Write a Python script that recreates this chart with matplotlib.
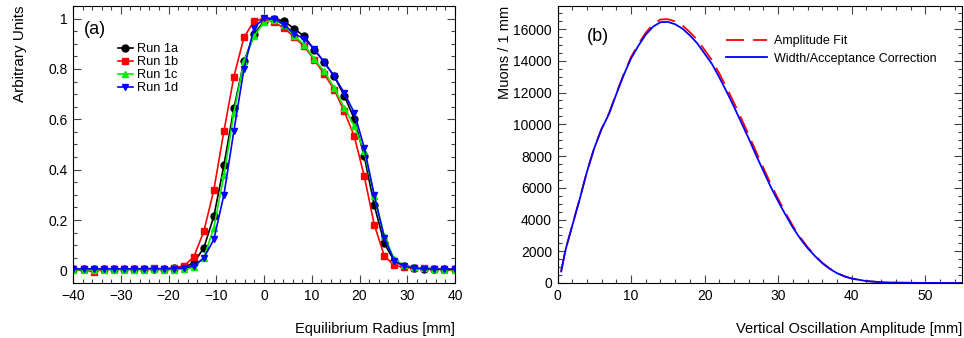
import numpy as np
import matplotlib
matplotlib.use("Agg")
import matplotlib.pyplot as plt
from matplotlib.ticker import MultipleLocator, FormatStrFormatter

plt.rcParams['font.family'] = ['Liberation Sans', 'DejaVu Sans']

# (a) equilibrium radius distributions
radius = [-39.9, -37.8, -35.7, -33.6, -31.5, -29.4, -27.3, -25.2, -23.1, -21.0,
          -18.9, -16.8, -14.7, -12.6, -10.5, -8.4, -6.3, -4.2, -2.1, 0.0,
          2.1, 4.2, 6.3, 8.4, 10.5, 12.6, 14.7, 16.8, 18.9, 21.0,
          23.1, 25.2, 27.3, 29.4, 31.5, 33.6, 35.7, 37.8, 39.9]
run_1a = [0.005, 0.005, 0.004, 0.005, 0.005, 0.005, 0.005, 0.006, 0.007, 0.005,
          0.008, 0.012, 0.030, 0.090, 0.215, 0.417, 0.644, 0.830, 0.937, 0.990,
          1.000, 0.990, 0.960, 0.930, 0.877, 0.827, 0.771, 0.694, 0.602, 0.453,
          0.258, 0.107, 0.037, 0.017, 0.010, 0.007, 0.005, 0.004, 0.004]
run_1b = [0.005, 0.004, -0.006, 0.005, 0.005, 0.005, 0.005, 0.006, 0.008, 0.006,
          0.011, 0.017, 0.054, 0.155, 0.320, 0.552, 0.770, 0.925, 0.990, 1.000,
          0.985, 0.963, 0.927, 0.890, 0.837, 0.780, 0.718, 0.632, 0.533, 0.374,
          0.181, 0.057, 0.020, 0.012, 0.009, 0.010, 0.007, 0.005, 0.004]
run_1c = [0.003, 0.003, 0.002, 0.003, 0.003, 0.003, 0.003, 0.003, 0.004, 0.003,
          0.003, 0.005, 0.012, 0.050, 0.170, 0.377, 0.626, 0.830, 0.930, 0.985,
          0.995, 0.975, 0.932, 0.897, 0.840, 0.790, 0.725, 0.646, 0.574, 0.473,
          0.295, 0.136, 0.044, 0.020, 0.012, 0.008, 0.005, 0.003, 0.003]
run_1d = [0.006, 0.006, 0.006, 0.006, 0.006, 0.006, 0.006, 0.006, 0.007, 0.006,
          0.007, 0.010, 0.017, 0.050, 0.123, 0.300, 0.555, 0.800, 0.963, 1.003,
          1.000, 0.976, 0.940, 0.920, 0.880, 0.827, 0.771, 0.705, 0.626, 0.487,
          0.298, 0.130, 0.037, 0.017, 0.010, 0.006, 0.005, 0.005, 0.005]

# (b) vertical oscillation amplitude
amp = [0.5, 1.1, 2, 3, 4, 5, 6, 7, 8, 9, 10, 11, 12, 13, 14, 15, 16, 17, 18, 19,
       20, 21, 22, 23, 24, 25, 26, 27, 28, 29, 30, 31, 32, 33, 34, 35, 36, 37, 38,
       39, 40, 42, 44, 46, 50, 55]
amp_fit = [740, 2120, 3620, 5270, 7020, 8520, 9730, 10690, 11950, 13160, 14230, 15050,
           15770, 16300, 16600, 16620, 16480, 16220, 15800, 15320, 14680, 14030, 13200,
           12300, 11350, 10350, 9330, 8270, 7250, 6230, 5300, 4420, 3600, 2880, 2260,
           1740, 1280, 920, 630, 425, 280, 120, 50, 20, 5, 0]
width_corr = [730, 2100, 3600, 5250, 7000, 8500, 9700, 10650, 11900, 13100, 14150, 14950,
              15650, 16150, 16430, 16450, 16300, 16020, 15600, 15100, 14450, 13800, 12950,
              12050, 11100, 10100, 9100, 8050, 7050, 6050, 5150, 4300, 3500, 2800, 2200,
              1700, 1250, 900, 620, 420, 280, 120, 50, 20, 5, 0]

fig = plt.figure(figsize=(9.64, 3.38), dpi=100)
ax1 = fig.add_axes([73/964, 1-283/338, (455-73)/964, (283-6)/338])
ax2 = fig.add_axes([557.5/964, 1-283/338, (962-557.5)/964, (283-6)/338])

ax1.plot(radius, run_1a, color='black', marker='o', ms=5, lw=1.2, label='Run 1a')
ax1.plot(radius, run_1b, color='red', marker='s', ms=5, lw=1.2, label='Run 1b')
ax1.plot(radius, run_1c, color='#00ee00', marker='^', ms=5, lw=1.2, label='Run 1c')
ax1.plot(radius, run_1d, color='blue', marker='v', ms=5, lw=1.2, label='Run 1d')
ax1.set_xlim(-40, 40)
ax1.set_ylim(-0.05, 1.05)
ax1.xaxis.set_major_locator(MultipleLocator(10))
ax1.xaxis.set_minor_locator(MultipleLocator(2))
ax1.yaxis.set_major_locator(MultipleLocator(0.2))
ax1.yaxis.set_minor_locator(MultipleLocator(0.05))
ax1.yaxis.set_major_formatter(FormatStrFormatter('%g'))
ax1.set_xlabel('Equilibrium Radius [mm]', fontsize=10.5, loc='right', labelpad=14)
ax1.set_ylabel('Arbitrary Units', fontsize=11, loc='top', labelpad=15)
ax1.text(0.028, 0.9, '(a)', transform=ax1.transAxes, fontsize=13)
ax1.legend(loc='upper left', bbox_to_anchor=(0.1, 0.888), frameon=False, fontsize=9.2,
           handlelength=1.2, handletextpad=0.3, labelspacing=0.07, borderpad=0)

ax2.plot(amp, amp_fit, color='red', lw=1.3, dashes=(10, 5), label='Amplitude Fit')
ax2.plot(amp, width_corr, color='blue', lw=1.3, label='Width/Acceptance Correction')
ax2.set_xlim(0, 55)
ax2.set_ylim(0, 17450)
ax2.xaxis.set_major_locator(MultipleLocator(10))
ax2.xaxis.set_minor_locator(MultipleLocator(2))
ax2.yaxis.set_major_locator(MultipleLocator(2000))
ax2.yaxis.set_minor_locator(MultipleLocator(500))
ax2.set_xlabel('Vertical Oscillation Amplitude [mm]', fontsize=10.5, loc='right', labelpad=14)
ax2.set_ylabel('Muons / 1 mm', fontsize=10.5, loc='top', labelpad=1)
ax2.text(0.073, 0.875, '(b)', transform=ax2.transAxes, fontsize=13)
ax2.legend(loc='upper left', bbox_to_anchor=(0.40, 0.918), frameon=False, fontsize=9,
           handlelength=3.3, handletextpad=0.6, labelspacing=0.45, borderpad=0)

for ax in (ax1, ax2):
    ax.tick_params(which='both', direction='in', top=True, right=True, labelsize=10,
                   width=0.8, color='#444444')
    ax.tick_params(which='major', length=6, pad=4)
    ax.tick_params(which='minor', length=3)
    for s in ax.spines.values():
        s.set_linewidth(0.8)

fig.savefig('out.png', dpi=100)
